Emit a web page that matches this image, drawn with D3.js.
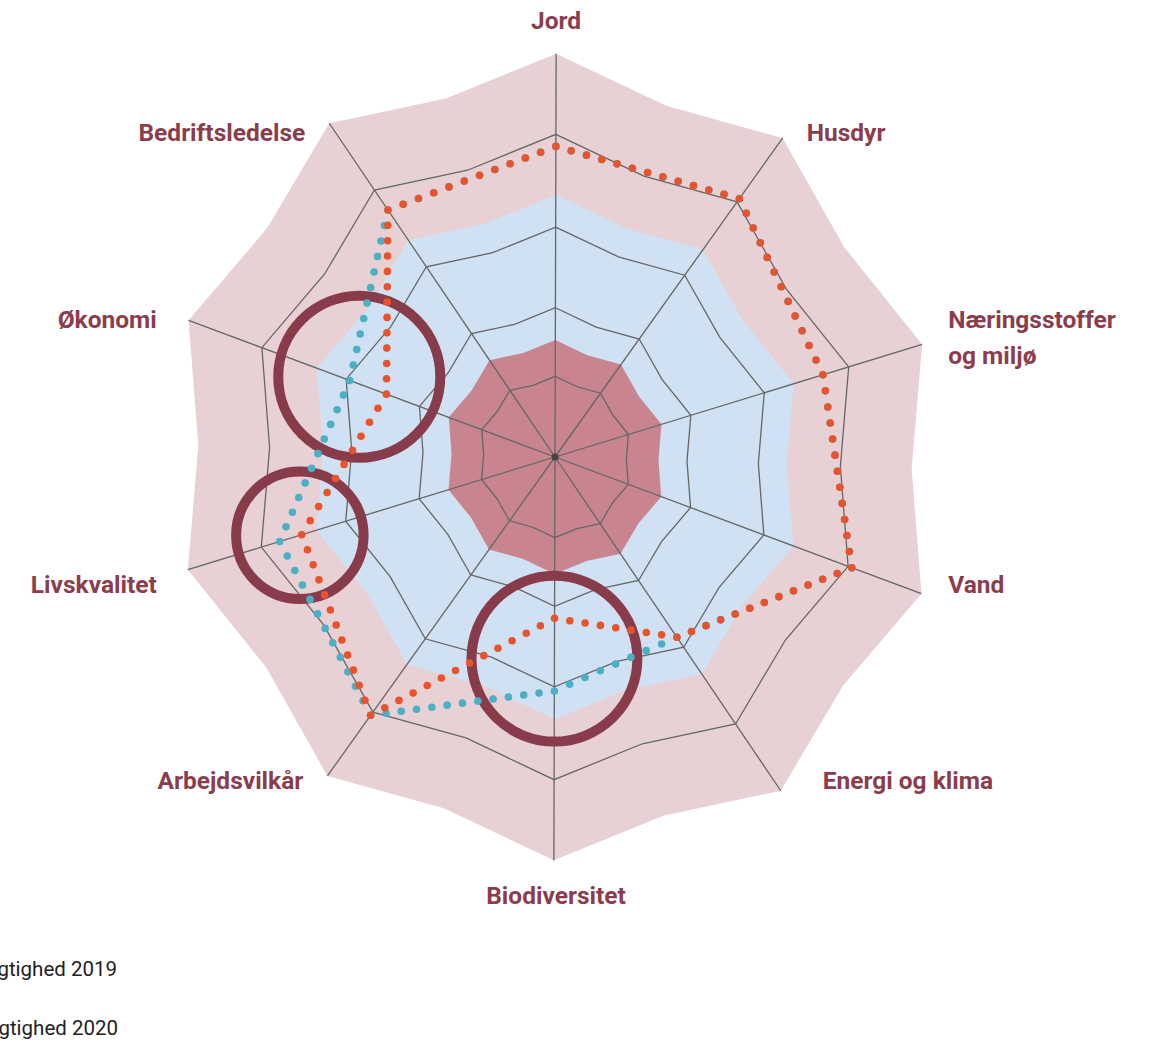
<!DOCTYPE html>
<html>
<head>
<meta charset="utf-8">
<script src="https://cdn.jsdelivr.net/npm/d3@7"></script>
<style>
  body { margin: 0; background: #fff; font-family: Roboto, 'Noto Sans', sans-serif; }
</style>
</head>
<body>
<div id="chart"></div>
<script>
// Data
const axes = ['Jord', 'Husdyr', 'Næringsstoffer og miljø', 'Vand', 'Energi og klima',
  'Biodiversitet', 'Arbejdsvilkår', 'Livskvalitet', 'Økonomi', 'Bedriftsledelse'];
const values2019 = [77, 81, 73, 81, 54, 40, 81, 69, 46, 74];
const values2020 = [77, 81, 73, 81, 54, 58, 81, 75, 56, 74];
const seriesNames = ['Bæredygtighed 2019', 'Bæredygtighed 2020'];
const gridLevels = [20, 37, 57, 80];
const bandLevels = [100, 65, 29];
// highlighted areas: axis index, value, radius (value units)
const highlightAxis = [8.05, 7, 5];
const highlightValue = [54, 69.5, 50];
const highlightSpan = [21.1, 16.6, 21.6];

// Dimensions
const width = 1150, height = 1043;
const cx = 555, cy = 457, R0 = 384;
const stretch = 1.055, stretchDir = -17, tilt = 1; // the web is slightly skewed
const pinch = 0.925;

const svg = d3.select('#chart')
  .append('svg')
  .attr('width', width)
  .attr('height', height);

const rScale = d3.scaleLinear().domain([0, 100]).range([0, R0]);
const angleOf = i => i * 360 / axes.length;

function project(deg, r) {
  const a = deg * Math.PI / 180;
  let x = r * Math.sin(a), y = -r * Math.cos(a);
  const p = stretchDir * Math.PI / 180;
  const ux = Math.sin(p), uy = -Math.cos(p);
  const d = x * ux + y * uy;
  x += (stretch - 1) * d * ux;
  y += (stretch - 1) * d * uy;
  const t = tilt * Math.PI / 180;
  return [cx + x * Math.cos(t) - y * Math.sin(t), cy + x * Math.sin(t) + y * Math.cos(t)];
}

// web-shaped ring with pinched midpoints
function webPath(level) {
  const pts = [];
  axes.forEach((a, i) => {
    pts.push(project(angleOf(i), rScale(level)));
    pts.push(project(angleOf(i) + 180 / axes.length, rScale(level) * pinch));
  });
  return d3.line()(pts) + 'Z';
}

// Bands
const bandColors = ['#e8d1d4', '#cfe1f2', '#c8858f'];
svg.append('g').selectAll('path')
  .data(bandLevels)
  .join('path')
  .attr('d', d => webPath(d))
  .attr('fill', (d, i) => bandColors[i]);

// Grid
svg.append('g').selectAll('path')
  .data(gridLevels)
  .join('path')
  .attr('d', d => webPath(d))
  .attr('fill', 'none')
  .attr('stroke', '#666')
  .attr('stroke-width', 1.3);

svg.append('g').selectAll('line')
  .data(axes)
  .join('line')
  .attr('x1', cx)
  .attr('y1', cy)
  .attr('x2', (d, i) => project(angleOf(i), rScale(100))[0])
  .attr('y2', (d, i) => project(angleOf(i), rScale(100))[1])
  .attr('stroke', '#666')
  .attr('stroke-width', 1.3);

svg.append('circle')
  .attr('cx', cx).attr('cy', cy).attr('r', 3.5)
  .attr('fill', '#444');

// Highlights
svg.append('g').selectAll('circle')
  .data(highlightAxis)
  .join('circle')
  .attr('cx', (d, i) => project(angleOf(d), rScale(highlightValue[i]))[0])
  .attr('cy', (d, i) => project(angleOf(d), rScale(highlightValue[i]))[1])
  .attr('r', (d, i) => rScale(highlightSpan[i]))
  .attr('fill', 'none')
  .attr('stroke', '#883c4b')
  .attr('stroke-width', 10);

// Dotted series
function dotsAlong(values, step) {
  const pts = values.map((v, i) => project(angleOf(i), rScale(v)));
  const out = [];
  pts.forEach((a, i) => {
    const b = pts[(i + 1) % pts.length];
    const len = Math.hypot(b[0] - a[0], b[1] - a[1]);
    const m = Math.max(1, Math.round(len / step));
    for (let k = 0; k < m; k++) {
      out.push([a[0] + (b[0] - a[0]) * k / m, a[1] + (b[1] - a[1]) * k / m]);
    }
  });
  return out;
}

const seriesColors = ['#e9532b', '#4bb0c4'];
[values2020, values2019].forEach((vals, j) => {
  svg.append('g').selectAll('circle')
    .data(dotsAlong(vals, 16))
    .join('circle')
    .attr('cx', d => d[0])
    .attr('cy', d => d[1])
    .attr('r', 3.8)
    .attr('fill', seriesColors[1 - j]);
});

// Labels
const labelNudge = [[1, -44], [26, -5], [28, -10], [28, 17], [42, 21],
  [1, 63], [-26, 21], [-33, 17], [-33, -10], [-24, -5]];
const labels = svg.append('g')
  .attr('font-size', '24.5px')
  .attr('font-weight', 700)
  .attr('fill', '#8b3d4e');

axes.forEach((name, i) => {
  const a = angleOf(i) * Math.PI / 180;
  const x = cx + R0 * Math.sin(a) + labelNudge[i][0];
  const y = cy - R0 * Math.cos(a) + labelNudge[i][1];
  const s = Math.sin(a);
  const anchor = Math.abs(s) < 0.1 ? 'middle' : (s > 0 ? 'start' : 'end');
  const lines = name === 'Næringsstoffer og miljø' ? ['Næringsstoffer', 'og miljø'] : [name];
  const t = labels.append('text')
    .attr('x', x)
    .attr('y', y)
    .attr('text-anchor', anchor);
  lines.forEach((l, k) => {
    t.append('tspan')
      .attr('x', x)
      .attr('dy', k === 0 ? 0 : 36)
      .text(l);
  });
});

// Legend (cut off at the left edge, as in the source)
svg.append('g').selectAll('text')
  .data(seriesNames)
  .join('text')
  .attr('x', (d, i) => 117 + i)
  .attr('y', (d, i) => 976 + i * 59)
  .attr('text-anchor', 'end')
  .attr('font-size', '20.5px')
  .attr('fill', '#222')
  .text(d => d);
</script>
</body>
</html>
